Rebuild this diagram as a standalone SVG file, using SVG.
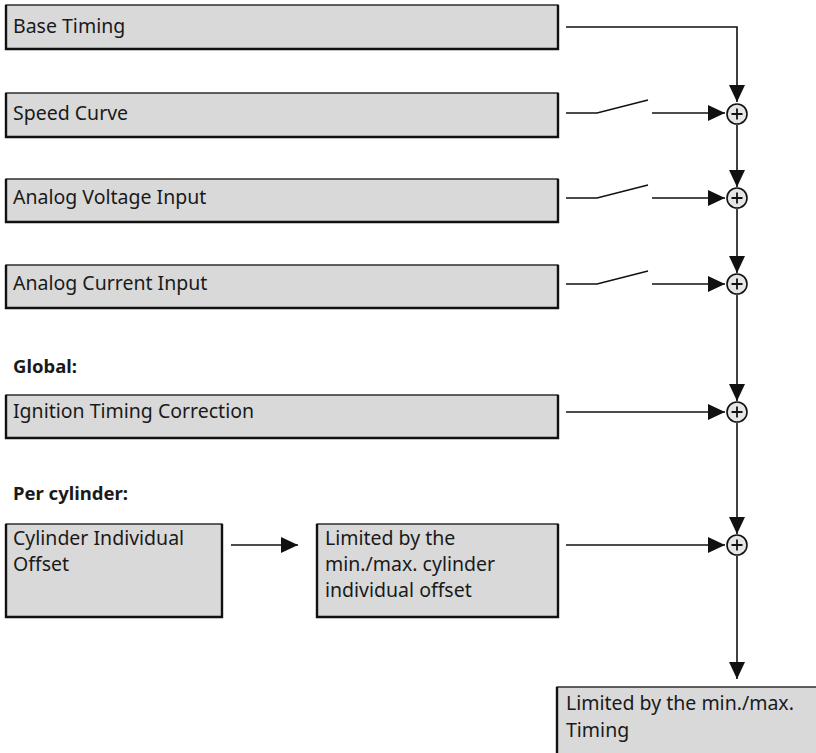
<svg xmlns="http://www.w3.org/2000/svg" width="816" height="753" viewBox="0 0 816 753">
<defs>
<style>
.box{fill:#d9d9d9;stroke:#111;stroke-width:1.3}
.sh{fill:none;stroke:#111;stroke-width:2.4}
.t{font-family:"Noto Sans","Open Sans",sans-serif;font-size:19.5px;fill:#1a1a1a}
.b{font-weight:bold;font-size:18.5px}
.ln{fill:none;stroke:#111;stroke-width:1.6}
.sum{fill:#e6e6e6;stroke:#111;stroke-width:1.6}
.plus{stroke:#111;stroke-width:1.8}
</style>
<marker id="ah" markerUnits="userSpaceOnUse" markerWidth="18" markerHeight="16" refX="17" refY="8" orient="auto">
<path d="M0,0 L17,8 L0,16 Z" fill="#111"/>
</marker>
<g id="sumglyph">
<circle class="sum" cx="0" cy="0" r="10"/>
<path class="plus" d="M-5.5,0 H5.5 M0,-5.5 V5.5"/>
</g>
</defs>
<rect width="816" height="753" fill="#fff"/>

<g id="base-timing">
<rect class="box" x="6" y="5" width="552" height="44"/>
<path class="sh" d="M6,5 V49 H558 V5"/>
<text class="t" x="13" y="33">Base Timing</text>
</g>
<g id="speed-curve">
<rect class="box" x="6" y="93" width="552" height="44"/>
<path class="sh" d="M6,93 V137 H558 V93"/>
<text class="t" x="13" y="120">Speed Curve</text>
</g>
<g id="analog-voltage">
<rect class="box" x="6" y="179" width="552" height="43"/>
<path class="sh" d="M6,179 V222 H558 V179"/>
<text class="t" x="13" y="204">Analog Voltage Input</text>
</g>
<g id="analog-current">
<rect class="box" x="6" y="265" width="552" height="43"/>
<path class="sh" d="M6,265 V308 H558 V265"/>
<text class="t" x="13" y="290">Analog Current Input</text>
</g>
<g id="label-global">
<text class="t b" x="13" y="373">Global:</text>
</g>
<g id="ignition">
<rect class="box" x="6" y="395" width="552" height="43"/>
<path class="sh" d="M6,395 V438 H558 V395"/>
<text class="t" x="13" y="418">Ignition Timing Correction</text>
</g>
<g id="label-per-cylinder">
<text class="t b" x="13" y="500">Per cylinder:</text>
</g>
<g id="cyl-offset">
<rect class="box" x="6" y="524" width="216" height="93"/>
<path class="sh" d="M6,524 V617 H222 V524"/>
<text class="t" x="13" y="545">Cylinder Individual</text>
<text class="t" x="13" y="571">Offset</text>
</g>
<g id="cyl-limit">
<rect class="box" x="317" y="524" width="241" height="93"/>
<path class="sh" d="M317,524 V617 H558 V524"/>
<text class="t" x="325" y="545">Limited by the</text>
<text class="t" x="325" y="571">min./max. cylinder</text>
<text class="t" x="325" y="597">individual offset</text>
</g>
<g id="timing-limit">
<rect class="box" x="557" y="687" width="270" height="80"/>
<path class="sh" d="M557,687 V760"/>
<text class="t" x="566" y="710">Limited by the min./max.</text>
<text class="t" x="566" y="737">Timing</text>
</g>

<g id="sum1"><use href="#sumglyph" x="737" y="114"/></g>
<g id="sum2"><use href="#sumglyph" x="737" y="198"/></g>
<g id="sum3"><use href="#sumglyph" x="737" y="284"/></g>
<g id="sum4"><use href="#sumglyph" x="737" y="412"/></g>
<g id="sum5"><use href="#sumglyph" x="737" y="545"/></g>

<g id="connectors">
<path class="ln" d="M566,27 H737 V102" marker-end="url(#ah)"/>
<path class="ln" d="M566,113 H597 L648,100"/>
<path class="ln" d="M652,113 H725" marker-end="url(#ah)"/>
<path class="ln" d="M737,125 V187" marker-end="url(#ah)"/>
<path class="ln" d="M566,198 H597 L648,185"/>
<path class="ln" d="M652,198 H725" marker-end="url(#ah)"/>
<path class="ln" d="M737,209 V273" marker-end="url(#ah)"/>
<path class="ln" d="M566,284 H597 L648,271"/>
<path class="ln" d="M652,284 H725" marker-end="url(#ah)"/>
<path class="ln" d="M737,295 V401" marker-end="url(#ah)"/>
<path class="ln" d="M566,412 H725" marker-end="url(#ah)"/>
<path class="ln" d="M737,423 V534" marker-end="url(#ah)"/>
<path class="ln" d="M231,545 H298" marker-end="url(#ah)"/>
<path class="ln" d="M566,545 H725" marker-end="url(#ah)"/>
<path class="ln" d="M737,556 V679" marker-end="url(#ah)"/>
</g>
</svg>
